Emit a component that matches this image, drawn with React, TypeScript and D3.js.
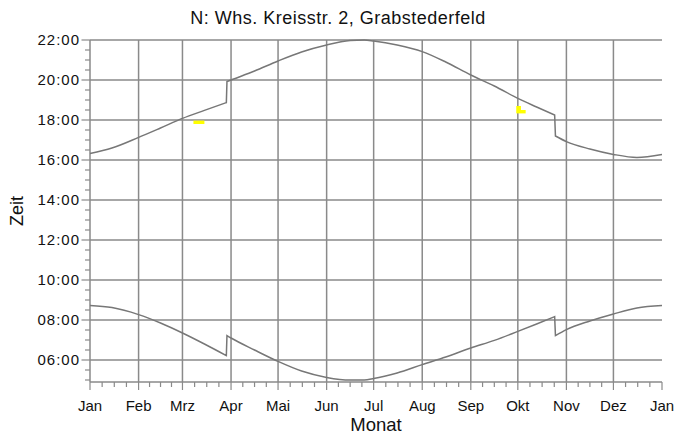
import { useRef, useEffect } from 'react';
import * as d3 from 'd3';

// day of year (0 = 1 Jan) and times in hours
const days = [0, 14, 31, 45, 59, 73, 87, 87.4, 90, 105, 120, 135, 151, 166, 175, 181, 196, 212, 227, 243, 258, 273, 285, 296.5, 297, 304, 319, 334, 349, 365];
const sunset = [16.33, 16.6, 17.13, 17.6, 18.08, 18.48, 18.87, 19.92, 20.0, 20.45, 20.95, 21.4, 21.75, 21.97, 22.0, 21.95, 21.75, 21.42, 20.9, 20.25, 19.7, 19.08, 18.65, 18.25, 17.2, 16.92, 16.55, 16.28, 16.13, 16.28];
const sunrise = [8.72, 8.62, 8.27, 7.85, 7.35, 6.8, 6.22, 7.22, 7.1, 6.5, 5.93, 5.45, 5.13, 5.0, 5.0, 5.07, 5.35, 5.77, 6.15, 6.6, 6.98, 7.43, 7.8, 8.17, 7.22, 7.52, 7.95, 8.3, 8.6, 8.72];

const monthLabels = ['Jan', 'Feb', 'Mrz', 'Apr', 'Mai', 'Jun', 'Jul', 'Aug', 'Sep', 'Okt', 'Nov', 'Dez', 'Jan'];
const monthStarts = [0, 31, 59, 90, 120, 151, 181, 212, 243, 273, 304, 334, 365];
const hourTicks = [6, 8, 10, 12, 14, 16, 18, 20, 22];

// shadow periods: [dayFrom, dayTo, hourFrom, hourTo]
const shadowCells = [
  [66, 73, 17.8, 17.97],
  [272, 275, 18.5, 18.7],
  [272, 278, 18.33, 18.5],
];

const W = 676, H = 437;
const margin = { top: 40, right: 14, bottom: 55, left: 90 };
const font = '"Liberation Sans", Arial, sans-serif';
const grid = '#8a8a8a';

const pad = (h: number) => String(h).padStart(2, '0') + ':00';

const App = () => {
  const svgRef = useRef<SVGSVGElement>(null);

  useEffect(() => {
    const svg = d3.select(svgRef.current);
    svg.selectAll('*').remove();

    const x = d3.scaleLinear().domain([0, 365]).range([margin.left, W - margin.right]);
    const y = d3.scaleLinear().domain([4.9, 22]).range([H - margin.bottom, margin.top]);
    const [x0, x1] = x.range();
    const [y0, y1] = y.range();

    // grid
    svg.append('g').selectAll('line')
      .data(hourTicks)
      .join('line')
      .attr('x1', x0).attr('x2', x1)
      .attr('y1', d => y(d)).attr('y2', d => y(d))
      .attr('stroke', grid).attr('stroke-width', 1.5);

    svg.append('g').selectAll('line')
      .data(monthStarts.slice(1, -1))
      .join('line')
      .attr('x1', d => x(d)).attr('x2', d => x(d))
      .attr('y1', y0).attr('y2', y1)
      .attr('stroke', grid).attr('stroke-width', 1.5);

    // axes lines
    svg.append('line').attr('x1', x0).attr('x2', x0).attr('y1', y0).attr('y2', y1)
      .attr('stroke', grid).attr('stroke-width', 1.5);
    svg.append('line').attr('x1', x0).attr('x2', x1).attr('y1', y0).attr('y2', y0)
      .attr('stroke', grid).attr('stroke-width', 1.5);

    // y ticks
    const minorY = d3.range(5, 22.01, 0.5);
    svg.append('g').selectAll('line')
      .data(minorY)
      .join('line')
      .attr('x1', d => (d % 2 === 0 ? x0 - 8.5 : x0 - 5)).attr('x2', x0)
      .attr('y1', d => y(d)).attr('y2', d => y(d))
      .attr('stroke', grid).attr('stroke-width', 1.2);

    svg.append('g').selectAll('text')
      .data(hourTicks)
      .join('text')
      .attr('x', 80).attr('y', d => y(d))
      .attr('dy', '0.35em')
      .attr('text-anchor', 'end')
      .attr('font-family', font).attr('font-size', 15)
      .attr('letter-spacing', 1)
      .attr('fill', '#111')
      .text(d => pad(d));

    // x ticks
    const minorX: number[] = [];
    monthStarts.slice(0, -1).forEach((m, i) => {
      const len = monthStarts[i + 1] - m;
      for (let k = 1; k < 4; k++) minorX.push(m + (len * k) / 4);
    });
    svg.append('g').selectAll('line')
      .data(minorX)
      .join('line')
      .attr('x1', d => x(d)).attr('x2', d => x(d))
      .attr('y1', y0).attr('y2', y0 + 5)
      .attr('stroke', grid).attr('stroke-width', 1.2);
    svg.append('g').selectAll('line')
      .data(monthStarts)
      .join('line')
      .attr('x1', d => x(d)).attr('x2', d => x(d))
      .attr('y1', y0).attr('y2', y0 + 8)
      .attr('stroke', grid).attr('stroke-width', 1.2);

    svg.append('g').selectAll('text')
      .data(monthStarts)
      .join('text')
      .attr('x', d => x(d)).attr('y', 410.5)
      .attr('text-anchor', 'middle')
      .attr('font-family', font).attr('font-size', 15)
      .attr('fill', '#111')
      .text((d, i) => monthLabels[i]);

    // shadow cells
    svg.append('g').selectAll('rect')
      .data(shadowCells)
      .join('rect')
      .attr('x', d => x(d[0])).attr('width', d => x(d[1]) - x(d[0]))
      .attr('y', d => y(d[3])).attr('height', d => y(d[2]) - y(d[3]))
      .attr('fill', '#ffff00');

    // curves: smooth pieces, joined by straight lines at the DST jumps
    const curvePath = (vals: number[]) => {
      const pts = days.map((d, i) => [x(d), y(vals[i])] as [number, number]);
      const pieces: [number, number][][] = [[pts[0]]];
      for (let i = 1; i < pts.length; i++) {
        if (days[i] - days[i - 1] < 1) pieces.push([pts[i]]);
        else pieces[pieces.length - 1].push(pts[i]);
      }
      const gen = d3.line().curve(d3.curveMonotoneX);
      return pieces.map((p, i) => {
        const s = gen(p) || '';
        return i === 0 ? s : 'L' + s.slice(1);
      }).join('');
    };

    svg.append('path')
      .attr('d', curvePath(sunset))
      .attr('fill', 'none').attr('stroke', '#777').attr('stroke-width', 1.5);
    svg.append('path')
      .attr('d', curvePath(sunrise))
      .attr('fill', 'none').attr('stroke', '#777').attr('stroke-width', 1.5);

    // titles
    svg.append('text')
      .attr('x', W / 2).attr('y', 24)
      .attr('text-anchor', 'middle')
      .attr('font-family', font).attr('font-size', 18)
      .attr('letter-spacing', 0.5)
      .attr('fill', '#111')
      .text('N: Whs. Kreisstr. 2, Grabstederfeld');

    svg.append('text')
      .attr('x', (x0 + x1) / 2).attr('y', 431)
      .attr('text-anchor', 'middle')
      .attr('font-family', font).attr('font-size', 18.5)
      .attr('fill', '#111')
      .text('Monat');

    svg.append('text')
      .attr('transform', `translate(23,${(y0 + y1) / 2}) rotate(-90)`)
      .attr('text-anchor', 'middle')
      .attr('font-family', font).attr('font-size', 18)
      .attr('fill', '#111')
      .text('Zeit');
  }, []);

  return (
    <svg ref={svgRef} width={W} height={H}
      style={{ position: 'absolute', left: 0, top: 0, background: '#fff' }} />
  );
};

export default App;
